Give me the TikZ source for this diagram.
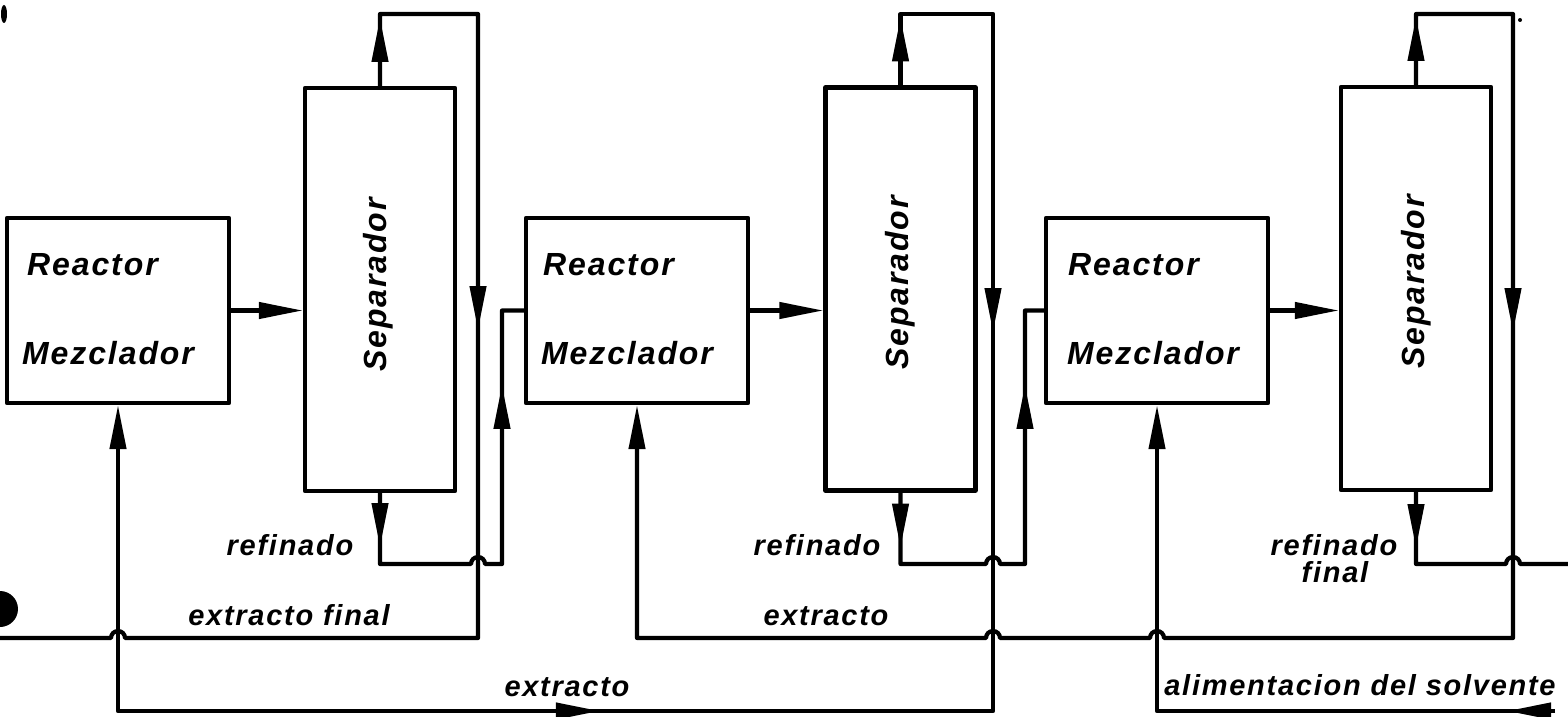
\documentclass[tikz,border=0pt]{standalone}
\usepackage{fontspec}
\usetikzlibrary{arrows.meta,decorations.markings}
\newfontfamily\lab{Liberation Sans}[LetterSpace=6]
\begin{document}
\begin{tikzpicture}[x=0.5pt,y=-0.5pt,line width=2.1pt,line join=round,
  >={Triangle[length=22pt,width=8pt]},
  reactor/.style={draw,minimum width=111pt,minimum height=92.5pt,inner sep=0pt},
  separ/.style={draw,minimum width=75pt,minimum height=201.5pt,inner sep=0pt},
  arrowat/.style={postaction={decorate,decoration={markings,mark=at position #1 with {\arrow{>}}}}},
  backarrowat/.style={postaction={decorate,decoration={markings,mark=at position #1 with {\arrowreversed{>}}}}},
  txt/.style={font=\lab\bfseries\itshape\fontsize{14.5}{16}\selectfont,inner sep=0pt},
  big/.style={font=\lab\bfseries\itshape\fontsize{16}{18}\selectfont,inner sep=0pt}]
\useasboundingbox (0,0) rectangle (1568,717);

% boxes
\node[reactor] (r1) at (118,310.5) {};
\node[reactor] (r2) at (637,310.5) {};
\node[reactor] (r3) at (1157,310.5) {};
\node[separ] (s1) at (380,289.5) {};
\node[separ] (s2) at (900.5,289) {};
\node[separ] (s3) at (1416,288.5) {};

% box texts
\node[big,anchor=base west] (t1a) at (25,275) {Reactor};
\node[big,anchor=base west] (t1b) at (20,364) {Mezclador};
\node[big,anchor=base west] (t2a) at (541,275) {Reactor};
\node[big,anchor=base west] (t2b) at (539,364) {Mezclador};
\node[big,anchor=base west] (t3a) at (1066,275) {Reactor};
\node[big,anchor=base west] (t3b) at (1065,364) {Mezclador};
\node[big,rotate=90] (u1) at (378,285) {Separador};
\node[big,rotate=90] (u2) at (900,283) {Separador};
\node[big,rotate=90] (u3) at (1416,282) {Separador};

% free ends
\coordinate (efin) at (0,638);
\coordinate (rfin) at (1568,564);
\coordinate (solv) at (1555,711);

% reactor -> separator
\draw[->] (r1.east) -- (r1.east -| s1.west);
\draw[->] (r2.east) -- (r2.east -| s2.west);
\draw[->] (r3.east) -- (r3.east -| s3.west);

% stage 1 extract (extracto final)
\draw[arrowat=34pt,arrowat=243pt] (s1.north) -- (380,14) -- (478,14) -- (478,638)
  -- (125,638) arc[start angle=0,end angle=180,radius=3.5pt] -- (efin);
% stage 1 raffinate -> reactor 2
\draw[arrowat=27pt,arrowat=190pt] (s1.south) -- (380,564) -- (471,564)
  arc[start angle=180,end angle=0,radius=3.5pt] -- (502,564) |- (r2.west);

% stage 2 extract -> reactor 1
\draw[->,arrowat=34pt,arrowat=241pt,backarrowat=627pt] (s2.north) -- (900.5,14) -- (993,14)
  -- (993,711) -- (118,711) -- (r1.south);
% stage 2 raffinate -> reactor 3
\draw[arrowat=27.5pt,arrowat=191.5pt] (s2.south) -- (900.5,564) -- (986,564)
  arc[start angle=180,end angle=0,radius=3.5pt] -- (1025,564) |- (r3.west);

% stage 3 extract -> reactor 2
\draw[->,arrowat=34pt,arrowat=243pt] (s3.north) -- (1416,14) -- (1513,14) -- (1513,638)
  -- (1164,638) arc[start angle=0,end angle=180,radius=3.5pt]
  -- (1000,638) arc[start angle=0,end angle=180,radius=3.5pt] -- (637,638) -- (r2.south);
% final raffinate
\draw[arrowat=28pt] (s3.south) -- (1416,564) -- (1506,564)
  arc[start angle=180,end angle=0,radius=3.5pt] -- (rfin);
% solvent feed
\draw[->,arrowat=24pt] (solv) -- (1157,711) -- (r3.south);

% labels
\node[txt,anchor=base] (l1) at (290,555) {refinado};
\node[txt,anchor=base] (l2) at (289,625) {extracto final};
\node[txt,anchor=base] (l3) at (817,555) {refinado};
\node[txt,anchor=base] (l4) at (826,625) {extracto};
\node[txt,anchor=base] (l5) at (567,696) {extracto};
\node[txt,anchor=base] (l6) at (1334,555) {refinado};
\node[txt,anchor=base] (l7) at (1335,582) {final};
\node[txt,anchor=base] (l8) at (1360,695) {alimentacion del solvente};

% scan marks
\fill (0,591) arc[start angle=90,end angle=-90,radius=9pt] -- cycle;
\fill (4,14) ellipse[x radius=1.5pt,y radius=4.5pt];
\fill (1520,20) circle[radius=1pt];
\end{tikzpicture}
\end{document}
